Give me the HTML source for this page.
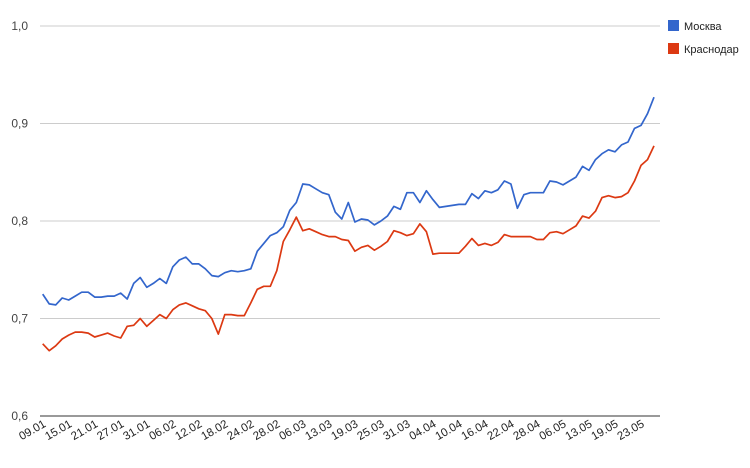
<!DOCTYPE html>
<html><head><meta charset="utf-8"><style>
body{margin:0;background:#fff;font-family:"Liberation Sans",Arial,sans-serif}
</style></head><body>
<svg id="chart" width="750" height="468" xmlns="http://www.w3.org/2000/svg" style="display:block;font-family:'Liberation Sans',Arial,sans-serif"></svg>
<script>
const xLabels=["09.01","15.01","21.01","27.01","31.01","06.02","12.02","18.02","24.02","28.02","06.03","13.03","19.03","25.03","31.03","04.04","10.04","16.04","22.04","28.04","06.05","13.05","19.05","23.05"];
const yTicks=[0.6,0.7,0.8,0.9,1.0];
const yTickLabels=["0,6","0,7","0,8","0,9","1,0"];
const seriesNames=["Москва","Краснодар"];
const moscow=[0.725,0.715,0.714,0.721,0.719,0.723,0.727,0.727,0.722,0.722,0.723,0.723,0.726,0.720,0.736,0.742,0.732,0.736,0.741,0.736,0.753,0.760,0.763,0.756,0.756,0.751,0.744,0.743,0.747,0.749,0.748,0.749,0.751,0.769,
0.777,0.785,0.788,0.794,0.811,0.819,0.838,0.837,0.833,0.829,0.827,0.809,0.802,0.819,0.799,0.802,0.801,0.796,0.800,0.805,0.815,0.812,0.829,0.829,0.819,0.831,0.822,0.814,0.815,0.816,0.817,0.817,
0.828,0.823,0.831,0.829,0.832,0.841,0.838,0.813,0.827,0.829,0.829,0.829,0.841,0.840,0.837,0.841,0.845,0.856,0.852,0.863,0.869,0.873,0.871,0.878,0.881,0.895,0.898,0.910,0.927];
const krasnodar=[0.674,0.667,0.672,0.679,0.683,0.686,0.686,0.685,0.681,0.683,0.685,0.682,0.680,0.692,0.693,0.700,0.692,0.698,0.704,0.700,0.709,0.714,0.716,0.713,0.710,0.708,0.700,0.684,0.704,0.704,0.703,0.703,0.716,0.730,
0.733,0.733,0.749,0.779,0.791,0.804,0.790,0.792,0.789,0.786,0.784,0.784,0.781,0.780,0.769,0.773,0.775,0.770,0.774,0.779,0.790,0.788,0.785,0.787,0.797,0.789,0.766,0.767,0.767,0.767,0.767,0.774,
0.782,0.775,0.777,0.775,0.778,0.786,0.784,0.784,0.784,0.784,0.781,0.781,0.788,0.789,0.787,0.791,0.795,0.805,0.803,0.810,0.824,0.826,0.824,0.825,0.829,0.841,0.857,0.863,0.877];
const NS="http://www.w3.org/2000/svg";
const svg=document.getElementById('chart');
const X0=42.7,X1=654,Y0=416,Y1=26,VMIN=0.6,VMAX=1.0;
const n=moscow.length;
function xs(i){return X0+(X1-X0)*i/(n-1);}
function ys(v){return Y0-(v-VMIN)/(VMAX-VMIN)*(Y0-Y1);}
function mk(t,a){const e=document.createElementNS(NS,t);for(const k in a)e.setAttribute(k,a[k]);svg.appendChild(e);return e;}
yTicks.forEach((v,i)=>{
  const g=mk('line',{x1:40,x2:660,y1:ys(v),y2:ys(v),stroke:i===0?'#333':'#ccc','stroke-width':1});
  
  
  const t=mk('text',{x:28,y:ys(v)+4,'text-anchor':'end','font-size':12,fill:'#444'});
  t.textContent=yTickLabels[i];
  
  
});
xLabels.forEach((l,k)=>{
  const x=xs(k*4)+4,y=426;
  const t=mk('text',{x:x,y:y,'text-anchor':'end','font-size':11.5,fill:'#222',transform:`rotate(-30 ${x} ${y})`});
  t.textContent=l;
  
  
});
function line(data,color,name){
  const p=mk('polyline',{points:data.map((v,i)=>xs(i).toFixed(1)+','+ys(v).toFixed(1)).join(' '),fill:'none',stroke:color,'stroke-width':1.7,'stroke-linejoin':'round'});
  
  
}
line(krasnodar,'#dc3912','series-krasnodar');
line(moscow,'#3366cc','series-moscow');
[['#3366cc',seriesNames[0],26],['#dc3912',seriesNames[1],49]].forEach(([c,name,y],i)=>{
  const r=mk('rect',{x:668,y:y-6,width:11,height:11,fill:c});
  
  
  const t=mk('text',{x:684,y:y+4,'font-size':11,fill:'#222'});
  t.textContent=name;
  
  
});
</script>
</body></html>
